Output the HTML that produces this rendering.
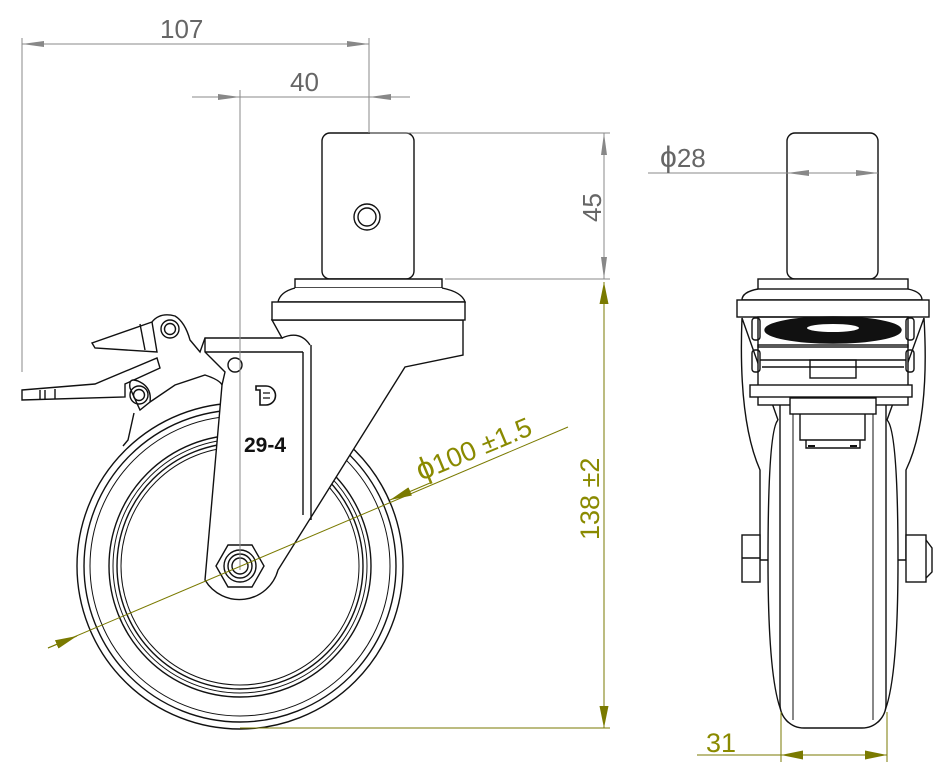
<!DOCTYPE html>
<html><head><meta charset="utf-8"><style>
html,body{margin:0;padding:0;background:#fff;}
svg{display:block;}
text{font-family:"Liberation Sans","DejaVu Sans",sans-serif;}
</style></head><body>
<svg width="944" height="773" viewBox="0 0 944 773" xmlns="http://www.w3.org/2000/svg">
<defs>
<marker id="ag" viewBox="0 0 22 6" refX="22" refY="3" markerWidth="22" markerHeight="6" markerUnits="userSpaceOnUse" orient="auto"><path d="M0,0 L22,3 L0,6 Z" fill="#888"/></marker>
<marker id="ao" viewBox="0 0 22 9" refX="22" refY="4.5" markerWidth="22" markerHeight="9" markerUnits="userSpaceOnUse" orient="auto"><path d="M0,0 L22,4.5 L0,9 Z" fill="#7a7a00"/></marker>
</defs>
<g fill="none" stroke="#111" stroke-width="1.4">
<circle cx="240" cy="566" r="163"/>
<circle cx="240" cy="566" r="156"/>
<circle cx="240" cy="566" r="150" stroke-width="1"/>
<circle cx="240" cy="566" r="131"/>
<circle cx="240" cy="566" r="127" stroke-width="1"/>
<circle cx="240" cy="566" r="123"/>
<circle cx="240" cy="566" r="119" stroke-width="1"/>
<path d="M222,385 L205,580 A40,40 0 0 0 278,570 L405,367 L463,355 L463,320 L272,320 L282,338 L205,338 L205,352 L225,372 Z" fill="#fff"/>
<line x1="205" y1="352" x2="303" y2="352"/>
<path d="M303,352 L303,515 M311,345 L311,520"/>
<path d="M282,338 Q300,330 310,345"/>
<rect x="322" y="133" width="92" height="146" rx="8" fill="#fff"/>
<circle cx="367" cy="217" r="13"/><circle cx="367" cy="217" r="9"/>
<path d="M295,279 L442,279 L442,288 L295,288 Z" fill="#fff"/>
<path d="M295,288 Q280,292 278,302 L465,302 Q462,292 442,288" fill="#fff"/>
<rect x="272" y="302" width="193" height="18" fill="#fff"/>
<polygon points="228,545 252,545 264,566 252,587 228,587 216,566" fill="#fff"/>
<circle cx="240" cy="566" r="16"/><circle cx="240" cy="566" r="12"/><circle cx="240" cy="566" r="8"/>
<circle cx="235" cy="365" r="7"/>
<path d="M256,386 L266,386 A9,9 0 0 1 266,405 L260,405 L260,390 L256,390 Z" stroke-width="1.6"/>
<path d="M263,393 L270,393 M263,398 L270,398" stroke-width="1.3"/>
<path d="M152,322 Q160,312 175,316 Q185,322 190,340 L200,352 L205,338" fill="#fff"/>
<path d="M152,322 L92,343 L95,348 L157,352 Z" fill="#fff"/>
<path d="M140,324 L145,350"/>
<circle cx="170" cy="329" r="9"/><circle cx="170" cy="329" r="5.5"/>
<path d="M22,390 L95,384 L157,358 L160,368 L125,384 L125,397 L22,400 Z" fill="#fff"/>
<path d="M40,390 L40,400 M45,390 L45,400 M55,389 L55,399"/>
<path d="M130,388 Q128,376 140,382 Q152,388 150,402 L140,410 Z" fill="#fff"/>
<circle cx="139" cy="395" r="9"/><circle cx="139" cy="395" r="5.5"/>
<path d="M150,402 L175,385 L205,375 Q220,380 222,385"/>
<path d="M134,413 L128,440 L123,446"/>
<!-- FRONT VIEW -->
<path d="M742,318 Q738,420 760,470 L760,560 L778,560 L778,420 Z" fill="#fff"/>
<path d="M924,318 Q930,420 906,470 L906,560 L887,560 L887,420 Z" fill="#fff"/>
<path d="M778,420 Q768,430 768,560 Q768,705 788,722 L878,722 Q898,705 898,560 Q898,430 887,420" fill="#fff"/>
<rect x="780" y="355" width="106" height="373" rx="24" fill="#fff"/>
<line x1="793" y1="365" x2="793" y2="720" stroke-width="1"/>
<line x1="873" y1="365" x2="873" y2="720" stroke-width="1"/>
<rect x="742" y="535" width="18" height="47" fill="#fff"/>
<line x1="742" y1="558" x2="760" y2="558"/>
<rect x="906" y="535" width="20" height="47" fill="#fff"/>
<path d="M926,540 L932,548 L932,572 L926,578"/>
<rect x="758" y="345" width="150" height="60" fill="#fff"/>
<rect x="750" y="385" width="162" height="12" fill="#fff"/>
<rect x="790" y="398" width="86" height="16" fill="#fff"/>
<path d="M800,414 L800,440 L865,440 L865,414"/>
<path d="M806,440 L806,448 L860,448 L860,440"/>
<path d="M808,446 L815,446 M850,446 L857,446" stroke-width="2"/>
<rect x="787" y="133" width="91" height="146" rx="8" fill="#fff"/>
<rect x="758" y="279" width="150" height="10" fill="#fff"/>
<path d="M758,289 Q742,292 742,300 L922,300 Q922,292 908,289"/>
<rect x="737" y="300" width="192" height="17" fill="#fff"/>
<ellipse cx="833" cy="330" rx="68" ry="13" fill="#111"/>
<ellipse cx="833" cy="328" rx="26" ry="4" fill="#fff" stroke="none"/>
<rect x="758" y="317" width="150" height="30"/>
<rect x="752" y="318" width="8" height="22" rx="3"/>
<rect x="906" y="318" width="8" height="22" rx="3"/>
<rect x="752" y="350" width="8" height="22" rx="3"/>
<rect x="906" y="350" width="8" height="22" rx="3"/>
<path d="M760,360 L906,360 M762,367 L904,367"/>
<rect x="810" y="360" width="46" height="18"/>
</g>
<g stroke="#888" stroke-width="1" fill="none">
<line x1="22" y1="38" x2="22" y2="372"/>
<line x1="369" y1="38" x2="369" y2="133"/>
<line x1="190" y1="44" x2="22" y2="44" marker-end="url(#ag)"/>
<line x1="190" y1="44" x2="369" y2="44" marker-end="url(#ag)"/>
<line x1="240" y1="90" x2="240" y2="570"/>
<line x1="192" y1="97" x2="240" y2="97" marker-end="url(#ag)"/>
<line x1="410" y1="97" x2="369" y2="97" marker-end="url(#ag)"/>
<line x1="240" y1="97" x2="369" y2="97"/>
<line x1="370" y1="133" x2="610" y2="133"/>
<line x1="445" y1="279" x2="610" y2="279"/>
<line x1="604" y1="205" x2="604" y2="133" marker-end="url(#ag)"/>
<line x1="604" y1="205" x2="604" y2="279" marker-end="url(#ag)"/>
<line x1="648" y1="173" x2="787" y2="173"/>
<line x1="832" y1="173" x2="787" y2="173" marker-end="url(#ag)"/>
<line x1="832" y1="173" x2="878" y2="173" marker-end="url(#ag)"/>
</g>
<g fill="#666" font-size="26">
<text x="160" y="38">107</text>
<text x="290" y="91">40</text>
<text transform="translate(601,222) rotate(-90)">45</text>
<text x="660" y="167"><tspan font-size="30">ϕ</tspan>28</text>
</g>
<g stroke="#7a7a00" stroke-width="1" fill="none">
<line x1="240" y1="728" x2="610" y2="728"/>
<line x1="604" y1="500" x2="604" y2="728" marker-end="url(#ao)"/>
<line x1="604" y1="500" x2="604" y2="282" marker-end="url(#ao)"/>
<line x1="48" y1="648" x2="568" y2="427"/>
<line x1="48" y1="648" x2="77" y2="636" marker-end="url(#ao)"/>
<line x1="430" y1="483" x2="390" y2="500" marker-end="url(#ao)"/>
<line x1="781" y1="712" x2="781" y2="762"/>
<line x1="887" y1="712" x2="887" y2="762"/>
<line x1="697" y1="755" x2="887" y2="755"/>
<line x1="830" y1="755" x2="781" y2="755" marker-end="url(#ao)"/>
<line x1="830" y1="755" x2="887" y2="755" marker-end="url(#ao)"/>
</g>
<g fill="#8a8a00" font-size="27">
<text transform="translate(599,540) rotate(-90)">138 ±2</text>
<text transform="translate(421,481) rotate(-22.6)"><tspan font-size="31">ϕ</tspan>100 ±1.5</text>
<text x="706" y="752">31</text>
</g>
<text x="244" y="452" font-size="21" font-weight="bold" fill="#111">29-4</text>
</svg>
</body></html>
